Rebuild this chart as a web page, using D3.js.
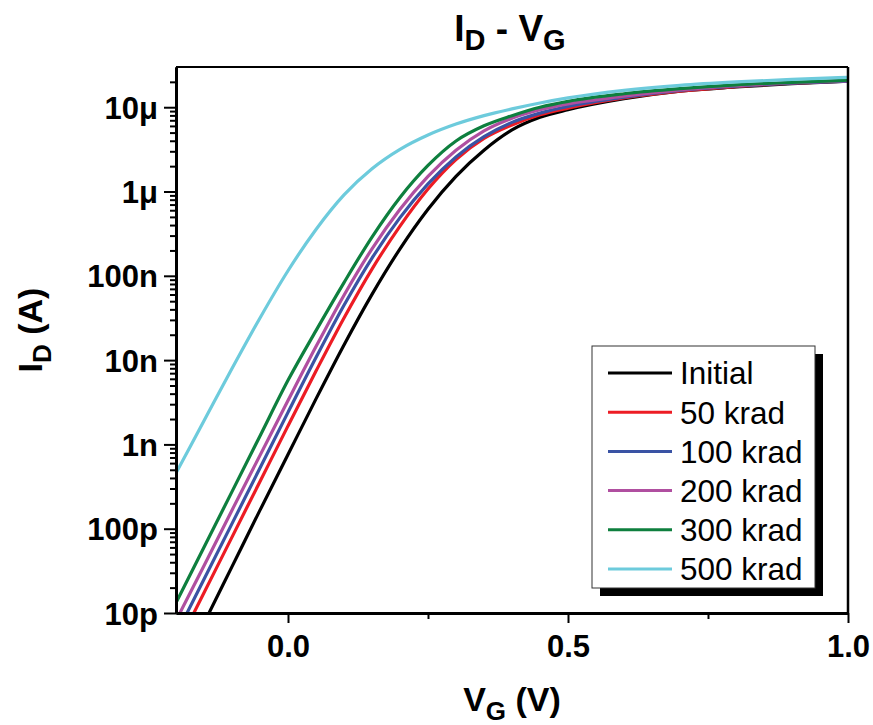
<!DOCTYPE html>
<html>
<head>
<meta charset="utf-8">
<script src="https://cdn.jsdelivr.net/npm/d3@7"></script>
<style>
  body { margin: 0; background: #fff; }
  text { font-family: "Liberation Sans", Arial, sans-serif; }
</style>
</head>
<body>
<div id="chart"></div>
<script>
// gate voltage grid (V)
const vg = [-0.2, -0.15, -0.1, -0.05, 0, 0.05, 0.1, 0.15, 0.2, 0.25, 0.3, 0.35, 0.4, 0.45, 0.5, 0.6, 0.7, 0.8, 0.9, 1.0];

// drain current, log10(ID / A)
const initial = [-11.78, -11.12, -10.45, -9.78, -9.12, -8.46, -7.82, -7.22, -6.68, -6.21, -5.82, -5.51, -5.27, -5.12, -5.03, -4.90, -4.81, -4.76, -4.72, -4.69];
const krad50  = [-11.42, -10.76, -10.10, -9.44, -8.78, -8.13, -7.50, -6.92, -6.41, -5.97, -5.62, -5.37, -5.21, -5.09, -5.01, -4.89, -4.81, -4.755, -4.715, -4.69];
const krad100 = [-11.26, -10.60, -9.94, -9.28, -8.62, -7.97, -7.35, -6.79, -6.31, -5.91, -5.59, -5.35, -5.18, -5.07, -4.99, -4.88, -4.80, -4.75, -4.715, -4.69];
const krad200 = [-11.09, -10.44, -9.78, -9.13, -8.48, -7.84, -7.23, -6.68, -6.21, -5.82, -5.51, -5.28, -5.13, -5.03, -4.96, -4.87, -4.795, -4.745, -4.71, -4.685];
const krad300 = [-10.88, -10.22, -9.56, -8.90, -8.24, -7.65, -7.08, -6.54, -6.07, -5.69, -5.40, -5.22, -5.10, -5.00, -4.93, -4.84, -4.78, -4.735, -4.705, -4.68];
const krad500 = [-9.34, -8.72, -8.10, -7.50, -6.94, -6.45, -6.04, -5.73, -5.50, -5.33, -5.20, -5.10, -5.02, -4.95, -4.89, -4.80, -4.74, -4.70, -4.67, -4.645];

const seriesNames = ["Initial", "50 krad", "100 krad", "200 krad", "300 krad", "500 krad"];
const seriesColors = ["#000000", "#ed1c24", "#3a53a4", "#b04fa0", "#0e7f3e", "#6dcbdc"];
const seriesData = [initial, krad50, krad100, krad200, krad300, krad500];

const yTickValues = [1e-11, 1e-10, 1e-9, 1e-8, 1e-7, 1e-6, 1e-5];
const yTickLabels = ["10p", "100p", "1n", "10n", "100n", "1\u03bc", "10\u03bc"];
const xTickValues = [0, 0.5, 1.0];
const xTickLabels = ["0.0", "0.5", "1.0"];
const xMinorTicks = [0.25, 0.75];

const W = 873, H = 725;
const margin = { top: 67, right: 25, bottom: 112, left: 176 };
const width = W - margin.left - margin.right,
      height = H - margin.top - margin.bottom;

const svg = d3.select("#chart").append("svg")
    .attr("width", W)
    .attr("height", H);

const g = svg.append("g")
    .attr("transform", `translate(${margin.left},${margin.top})`);

let x = d3.scaleLinear()
    .domain([-0.2, 1.0])
    .range([0, width]);

let y = d3.scaleLog()
    .domain([1e-11, 3e-5])
    .range([height, 0]);

// minor y ticks: 2..9 in every decade
let yMinor = [];
for (let e = -11; e <= -5; e++) {
    for (let k = 2; k <= 9; k++) {
        const v = k * Math.pow(10, e);
        if (v <= 3e-5) yMinor.push(v);
    }
}

g.append("defs").append("clipPath").attr("id", "clip")
    .append("rect").attr("width", width).attr("height", height);

// curves
const line = d3.line()
    .x((d) => x(d[0]))
    .y((d) => y(Math.pow(10, d[1])))
    .curve(d3.curveMonotoneX);

seriesData.forEach((s, i) => {
    g.append("path")
        .datum(vg.map((v, j) => [v, s[j]]))
        .attr("clip-path", "url(#clip)")
        .attr("fill", "none")
        .attr("stroke", seriesColors[i])
        .attr("stroke-width", 3.2)
        .attr("d", line);
});

// frame (top, right)
g.append("line").attr("x1", 0).attr("x2", width).attr("y1", 0).attr("y2", 0)
    .attr("stroke", "#000").attr("stroke-width", 2);
g.append("line").attr("x1", width).attr("x2", width).attr("y1", 0).attr("y2", height)
    .attr("stroke", "#000").attr("stroke-width", 2.5);

// y axis
const yAxis = d3.axisLeft(y)
    .tickValues(yTickValues)
    .tickSize(12)
    .tickSizeOuter(0)
    .tickFormat((d, i) => yTickLabels[i]);

const yMinorAxis = d3.axisLeft(y)
    .tickValues(yMinor)
    .tickSize(6)
    .tickSizeOuter(0)
    .tickFormat("");

g.append("g").attr("class", "y minor").call(yMinorAxis);
let ya = g.append("g").attr("class", "y axis").call(yAxis);

// x axis
const xAxis = d3.axisBottom(x)
    .tickValues(xTickValues)
    .tickSize(10)
    .tickSizeOuter(0)
    .tickPadding(12)
    .tickFormat((d, i) => xTickLabels[i]);

const xMinorAxis = d3.axisBottom(x)
    .tickValues(xMinorTicks)
    .tickSize(6)
    .tickSizeOuter(0)
    .tickFormat("");

g.append("g").attr("transform", `translate(0,${height})`).call(xMinorAxis);
let xa = g.append("g").attr("class", "x axis")
    .attr("transform", `translate(0,${height})`)
    .call(xAxis);

g.selectAll(".domain").attr("stroke", "#000").attr("stroke-width", 3);
g.selectAll(".tick line").attr("stroke", "#000").attr("stroke-width", 2);

ya.selectAll("text")
    .attr("font-size", 31)
    .attr("font-weight", "bold")
    .attr("font-family", "'Liberation Sans', Arial, sans-serif")
    .attr("x", -18)
    .attr("dy", "0.36em");

xa.selectAll("text")
    .attr("font-size", 31)
    .attr("font-weight", "bold")
    .attr("font-family", "'Liberation Sans', Arial, sans-serif");

// title
const title = svg.append("text")
    .attr("x", 510).attr("y", 41)
    .attr("text-anchor", "middle")
    .attr("font-weight", "bold")
    .attr("font-size", 37);
title.append("tspan").text("I");
title.append("tspan").attr("dy", 9).attr("font-size", 29).text("D");
title.append("tspan").attr("dy", -9).text(" - V");
title.append("tspan").attr("dy", 9).attr("font-size", 29).text("G");

// x axis title
const xt = svg.append("text")
    .attr("x", 512).attr("y", 711)
    .attr("text-anchor", "middle")
    .attr("font-weight", "bold")
    .attr("font-size", 34);
xt.append("tspan").text("V");
xt.append("tspan").attr("dy", 9).attr("font-size", 26).text("G");
xt.append("tspan").attr("dy", -9).text(" (V)");

// y axis title
const yt = svg.append("text")
    .attr("transform", "translate(42,330) rotate(-90)")
    .attr("text-anchor", "middle")
    .attr("font-weight", "bold")
    .attr("font-size", 34);
yt.append("tspan").text("I");
yt.append("tspan").attr("dy", 9).attr("font-size", 26).text("D");
yt.append("tspan").attr("dy", -9).text(" (A)");

// legend
const lg = svg.append("g").attr("transform", "translate(592,346)");
lg.append("rect").attr("x", 8).attr("y", 8).attr("width", 223).attr("height", 242).attr("fill", "#000");
lg.append("rect").attr("x", 0).attr("y", 0).attr("width", 223).attr("height", 242)
    .attr("fill", "#fff").attr("stroke", "#333").attr("stroke-width", 1);

seriesNames.forEach((name, i) => {
    const yy = 27 + i * 39.2;
    lg.append("line")
        .attr("x1", 16).attr("x2", 80)
        .attr("y1", yy).attr("y2", yy)
        .attr("stroke", seriesColors[i])
        .attr("stroke-width", 3);
    lg.append("text")
        .attr("x", 88).attr("y", yy)
        .attr("dy", "0.36em")
        .attr("font-size", 31.5)
        .text(name);
});
</script>
</body>
</html>
